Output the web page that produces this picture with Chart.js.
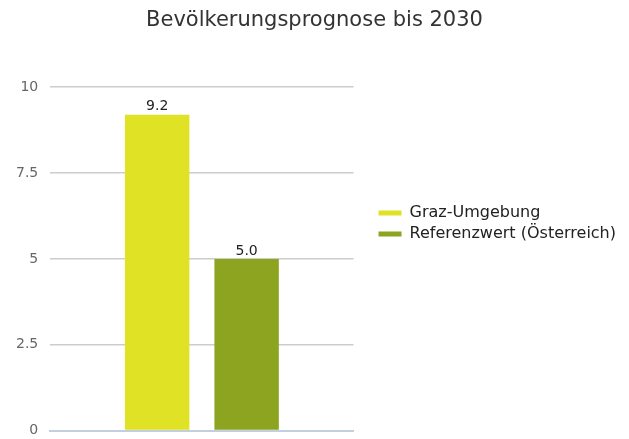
<!DOCTYPE html>
<html lang="de">
<head>
    <meta charset="UTF-8">
    <title>Bevölkerungsprognose bis 2030</title>
    <style>
        html, body { margin: 0; padding: 0; background: #fff; }
        #wrap { width: 629px; height: 439px; }
    </style>
</head>
<body>
    <div id="wrap"><canvas id="chart"></canvas></div>

    <script src="https://cdn.jsdelivr.net/npm/chart.js"></script>
    <script>
        // Chart data
        const categories = ['Bevölkerungsprognose bis 2030'];
        const seriesNames = ['Graz-Umgebung', 'Referenzwert (Österreich)'];
        const grazValues = [9.2];
        const referenzValues = [5.0];
        const yTicks = [0, 2.5, 5, 7.5, 10];
        const colors = ['#dfe225', '#8ca420'];

        // draw value labels above bars
        const valueLabels = {
            id: 'valueLabels',
            afterDatasetsDraw(chart) {
                const ctx = chart.ctx;
                ctx.save();
                ctx.font = '14px "DejaVu Sans"';
                ctx.fillStyle = '#222';
                ctx.textAlign = 'center';
                ctx.textBaseline = 'bottom';
                chart.data.datasets.forEach((ds, i) => {
                    chart.getDatasetMeta(i).data.forEach((bar, j) => {
                        ctx.fillText(ds.data[j].toFixed(1), bar.x, bar.y - 1);
                    });
                });
                ctx.restore();
            }
        };

        new Chart(document.getElementById('chart'), {
            type: 'bar',
            data: {
                labels: categories,
                datasets: [
                    { label: seriesNames[0], data: grazValues, backgroundColor: colors[0], yAxisID: 'y' },
                    { label: seriesNames[1], data: referenzValues, backgroundColor: colors[1], yAxisID: 'y' }
                ]
            },
            options: {
                responsive: true,
                maintainAspectRatio: false,
                animation: false,
                layout: { padding: { left: 3, right: 3, top: 8, bottom: 0 } },
                categoryPercentage: 0.59,
                barPercentage: 0.72,
                plugins: {
                    title: {
                        display: true,
                        text: 'Bevölkerungsprognose bis 2030',
                        color: '#333',
                        font: { family: 'DejaVu Sans', size: 21, weight: 'normal' },
                        padding: { top: 0, bottom: 54 }
                    },
                    legend: {
                        position: 'right',
                        maxWidth: 300,
                        labels: {
                            boxWidth: 23,
                            boxHeight: 5,
                            padding: 5,
                            color: '#222',
                            font: { family: 'DejaVu Sans', size: 16 }
                        }
                    },
                    tooltip: { enabled: false }
                },
                scales: {
                    x: {
                        ticks: { display: false },
                        grid: { display: false },
                        border: { color: '#c3cfdc', width: 2 },
                        afterFit(scale) { scale.height = 8; }
                    },
                    y: {
                        min: 0,
                        max: 10,
                        afterBuildTicks(scale) {
                            scale.ticks = yTicks.map(v => ({ value: v }));
                        },
                        afterFit(scale) { scale.width += 13; },
                        ticks: {
                            color: '#666',
                            padding: 0,
                            font: { family: 'DejaVu Sans', size: 14 }
                        },
                        grid: {
                            color: '#cccccc',
                            lineWidth: 1.5,
                            drawTicks: true,
                            tickLength: 12,
                            tickColor: 'rgba(0,0,0,0)'
                        },
                        border: { display: false }
                    },
                    // empty axis, only keeps a gap between plot and legend
                    gap: {
                        position: 'right',
                        min: 0,
                        max: 10,
                        ticks: { display: false },
                        grid: { display: false },
                        border: { display: false },
                        afterFit(scale) { scale.width = 20; }
                    }
                }
            },
            plugins: [valueLabels]
        });
    </script>
</body>
</html>
